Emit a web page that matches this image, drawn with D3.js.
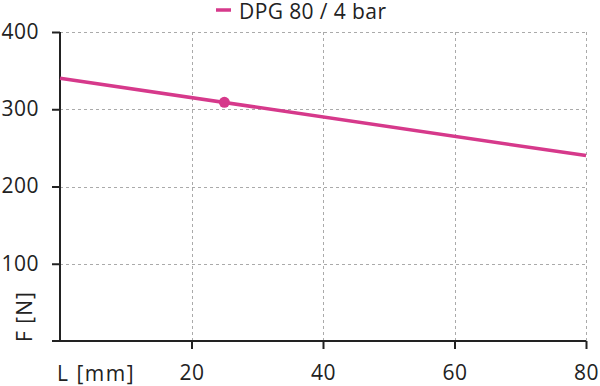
<!DOCTYPE html>
<html>
<head>
<meta charset="utf-8">
<script src="https://cdn.jsdelivr.net/npm/d3@7"></script>
<style>
  html, body { margin: 0; padding: 0; background: #fff; }
  svg { display: block; }
  text { font-family: "Open Sans", "Noto Sans", sans-serif; fill: #222; }
</style>
</head>
<body>
<svg id="chart" width="600" height="386"></svg>
<script>
const seriesName = "DPG 80 / 4 bar";
const lengths = [0, 80];          // L [mm]
const forces = [340, 240];        // F [N]
const markerL = [25];
const markerF = [309];
const xTicks = [20, 40, 60, 80];
const yTicks = [100, 200, 300, 400];
const xAxisLabel = "L [mm]";
const yAxisLabel = "F [N]";
const color = "#d6398b";

const svg = d3.select("#chart");
const x = d3.scaleLinear().domain([0, 80]).range([60, 586]);
const y = d3.scaleLinear().domain([0, 400]).range([341, 32]);

// grid
const grid = svg.append("g").attr("stroke", "#aaa").attr("stroke-width", 1).attr("stroke-dasharray", "3,3");
yTicks.forEach(t => grid.append("line").attr("x1", x(0)).attr("x2", x(80)).attr("y1", Math.round(y(t)) + 0.5).attr("y2", Math.round(y(t)) + 0.5));
xTicks.forEach(t => grid.append("line").attr("x1", Math.round(x(t)) + 0.5).attr("x2", Math.round(x(t)) + 0.5).attr("y1", y(0)).attr("y2", y(400)));

// axes
const yAxis = d3.axisLeft(y).tickValues(yTicks).tickSize(8).tickPadding(13).tickFormat(d3.format("d"));
const gy = svg.append("g").attr("transform", `translate(${x(0)},0)`).call(yAxis);
gy.select(".domain").attr("d", `M0,${y(400)}V${y(0)}`).attr("stroke", "#222").attr("stroke-width", 2);
gy.selectAll(".tick line").attr("stroke", "#222").attr("stroke-width", 2);
gy.selectAll(".tick text").style("font-size", "21px").style("letter-spacing", "0.5px").attr("fill", "#222").attr("dy", "0.3em");

const xAxis = d3.axisBottom(x).tickValues(xTicks).tickSize(8).tickPadding(16).tickFormat(d3.format("d"));
const gx = svg.append("g").attr("transform", `translate(0,${y(0)})`).call(xAxis);
gx.select(".domain").attr("d", `M${x(0) - 8},0H${x(80)}`).attr("stroke", "#222").attr("stroke-width", 2);
gx.selectAll(".tick line").attr("stroke", "#222").attr("stroke-width", 2);
gx.selectAll(".tick text").style("font-size", "21px").style("letter-spacing", "0.5px").attr("fill", "#222");

svg.append("text").attr("x", 57).attr("y", 381).style("font-size", "21px").style("letter-spacing", "1.5px").text(xAxisLabel);
svg.append("text").attr("transform", `translate(32,342) rotate(-90)`).style("font-size", "21px").style("letter-spacing", "1px").text(yAxisLabel);

// series
const line = d3.line().x((d, i) => x(lengths[i])).y(d => y(d));
svg.append("path").datum(forces).attr("d", line).attr("fill", "none").attr("stroke", color).attr("stroke-width", 3.5);
svg.selectAll(".pt").data(markerL).enter().append("circle")
  .attr("cx", d => x(d)).attr("cy", (d, i) => y(markerF[i])).attr("r", 5.5).attr("fill", color);

// legend
svg.append("line").attr("x1", 216).attr("x2", 231).attr("y1", 10).attr("y2", 10).attr("stroke", color).attr("stroke-width", 3.5);
svg.append("text").attr("x", 239).attr("y", 18.5).style("font-size", "21px").style("letter-spacing", "0.4px").text(seriesName);
</script>
</body>
</html>
